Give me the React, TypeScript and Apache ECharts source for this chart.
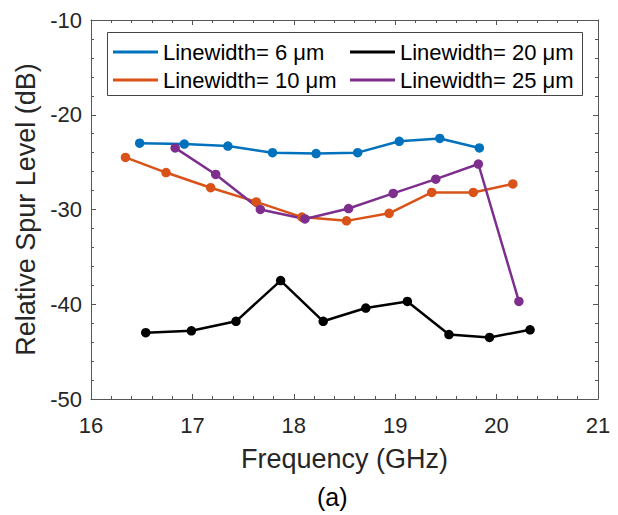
import React, { useEffect, useRef } from "react";
import * as echarts from "echarts";

const seriesNames = ["Linewidth= 6 μm", "Linewidth= 10 μm", "Linewidth= 20 μm", "Linewidth= 25 μm"];
const seriesColors = ["#0072BD", "#D95319", "#000000", "#7E2F8E"];

const freq6 = [16.48, 16.92, 17.35, 17.79, 18.22, 18.63, 19.04, 19.44, 19.83];
const level6 = [-23.0, -23.1, -23.3, -24.0, -24.1, -24.0, -22.8, -22.5, -23.5];

const freq10 = [16.34, 16.74, 17.18, 17.63, 18.08, 18.52, 18.94, 19.36, 19.77, 20.16];
const level10 = [-24.5, -26.1, -27.7, -29.2, -30.8, -31.2, -30.4, -28.2, -28.2, -27.3];

const freq20 = [16.54, 16.99, 17.43, 17.87, 18.29, 18.71, 19.12, 19.53, 19.93, 20.33];
const level20 = [-43.0, -42.8, -41.8, -37.5, -41.8, -40.4, -39.7, -43.2, -43.5, -42.7];

const freq25 = [16.83, 17.23, 17.67, 18.11, 18.54, 18.98, 19.40, 19.82, 20.22];
const level25 = [-23.5, -26.3, -30.0, -31.0, -29.9, -28.3, -26.8, -25.2, -39.7];

const xTicks = [16, 17, 18, 19, 20, 21];
const yTicks = [-50, -40, -30, -20, -10];

const pairs = (xs: number[], ys: number[]) => xs.map((x, i) => [x, ys[i]]);

export default function App() {
  const ref = useRef<HTMLDivElement>(null);
  useEffect(() => {
    if (!ref.current) return;
    const chart = echarts.init(ref.current, undefined, { renderer: "svg" });
    const font = "Liberation Sans, Arial, Helvetica, sans-serif";
    const axisColor = "#555555";
    const textColor = "#262626";
    const datasets = [
      pairs(freq6, level6),
      pairs(freq10, level10),
      pairs(freq20, level20),
      pairs(freq25, level25),
    ];
    const legendCommon = {
      orient: "vertical" as const,
      icon: "rect",
      itemWidth: 45,
      itemHeight: 3,
      itemGap: 4,
      padding: 0,
      textStyle: { fontSize: 22, color: "#000", fontFamily: font, lineHeight: 24, padding: [0, 0, 0, 0] },
    };
    const commonX = {
      type: "value" as const,
      min: xTicks[0],
      max: xTicks[xTicks.length - 1],
      interval: 1,
      splitLine: { show: false },
      axisLine: { show: true, lineStyle: { color: axisColor, width: 1 } },
      axisTick: { show: true, inside: true, length: 5, lineStyle: { color: axisColor } },
      minorTick: { show: true, splitNumber: 5, length: 3, lineStyle: { color: axisColor } },
    };
    const commonY = {
      type: "value" as const,
      min: yTicks[0],
      max: yTicks[yTicks.length - 1],
      interval: 10,
      splitLine: { show: false },
      axisLine: { show: true, onZero: false, lineStyle: { color: axisColor, width: 1 } },
      axisTick: { show: true, inside: true, length: 5, lineStyle: { color: axisColor } },
      minorTick: { show: true, splitNumber: 5, length: 3, lineStyle: { color: axisColor } },
    };
    chart.setOption({
      animation: false,
      backgroundColor: "#ffffff",
      grid: { left: 91, right: 20, top: 20, bottom: 116, containLabel: false },
      xAxis: [
        {
          ...commonX,
          position: "bottom",
          axisLine: { ...commonX.axisLine, onZero: false },
          name: "Frequency (GHz)",
          nameLocation: "middle",
          nameGap: 46,
          nameTextStyle: { fontSize: 27, color: textColor, fontFamily: font },
          axisLabel: { fontSize: 22, color: textColor, fontFamily: font, margin: 15 },
        },
        {
          ...commonX,
          position: "top",
          axisLine: { ...commonX.axisLine, onZero: false },
          axisLabel: { show: false },
        },
      ],
      yAxis: [
        {
          ...commonY,
          position: "left",
          name: "Relative Spur Level (dB)",
          nameLocation: "middle",
          nameGap: 50,
          nameRotate: 90,
          nameTextStyle: { fontSize: 27, color: textColor, fontFamily: font },
          axisLabel: { fontSize: 22, color: textColor, fontFamily: font, margin: 9 },
        },
        {
          ...commonY,
          position: "right",
          axisLabel: { show: false },
        },
      ],
      legend: [
        { ...legendCommon, left: 113, top: 40, data: [seriesNames[0], seriesNames[1]] },
        { ...legendCommon, left: 350, top: 40, data: [seriesNames[2], seriesNames[3]] },
      ],
      series: datasets.map((d, i) => ({
        name: seriesNames[i],
        type: "line",
        data: d,
        xAxisIndex: 0,
        yAxisIndex: 0,
        color: seriesColors[i],
        lineStyle: { width: 2.5, color: seriesColors[i] },
        itemStyle: { color: seriesColors[i] },
        symbol: "circle",
        symbolSize: 9.5,
        showSymbol: true,
        z: 3,
      })),
      graphic: [
        {
          type: "rect",
          left: 107,
          top: 32,
          shape: { width: 475, height: 63 },
          style: { fill: "#ffffff", stroke: "#444444", lineWidth: 1 },
          z: 1,
          silent: true,
        },
        {
          type: "text",
          left: 317,
          top: 484,
          style: { text: "(a)", fontSize: 25, fill: "#000", fontFamily: font },
        },
      ],
    });
    return () => chart.dispose();
  }, []);
  return <div ref={ref} style={{ width: 618, height: 515, position: "absolute", left: 0, top: 0 }} />;
}
